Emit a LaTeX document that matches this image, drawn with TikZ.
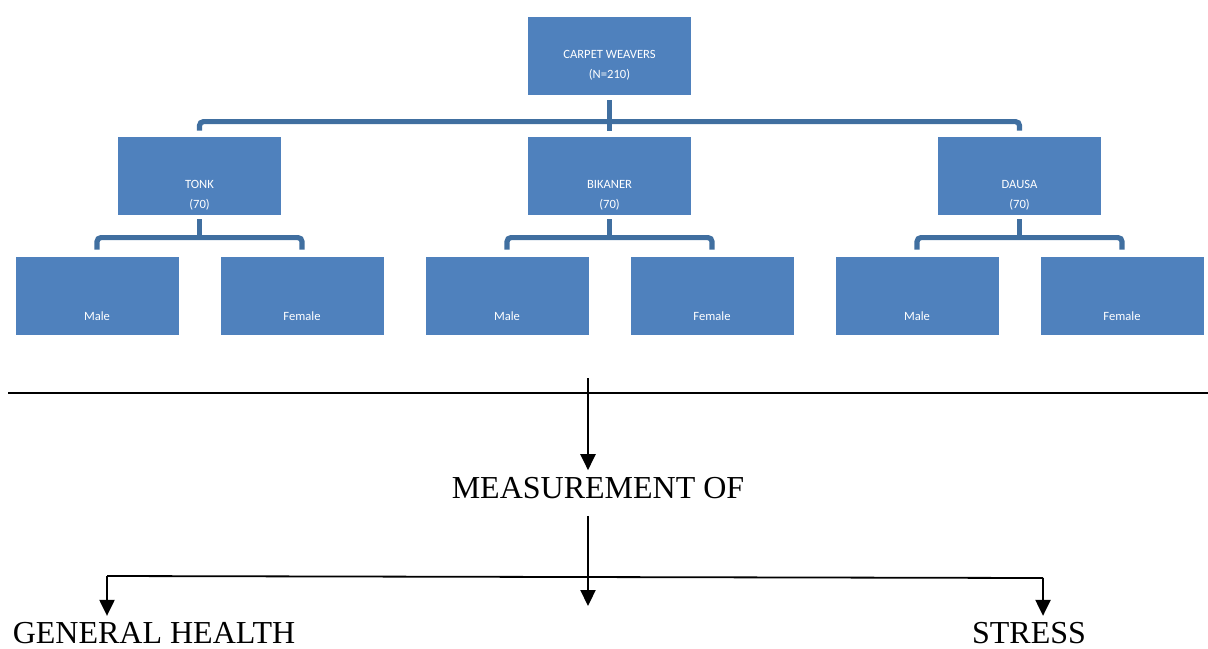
\documentclass[tikz,border=0pt]{standalone}
\usepackage{fontspec}
\setmainfont{Liberation Serif}
\newfontfamily\boxfont{Carlito}
\usetikzlibrary{arrows.meta,positioning,calc}
\definecolor{orgbox}{RGB}{79,129,189}
\definecolor{orgline}{RGB}{64,111,160}
\tikzset{unit/.style={fill=orgbox,minimum width=81.5pt,minimum height=39pt,inner sep=0pt},
  unittext/.style={font=\boxfont\fontsize{6.3}{10}\selectfont,text=white,align=center,inner sep=0pt},
  tie/.style={orgline,line width=2.6pt,rounded corners=2pt},
  rule/.style={black,line width=0.9pt},
  flow/.style={-{Triangle[length=8pt,width=7.5pt]},black,line width=1.1pt},
  bigtext/.style={font=\fontsize{16}{19}\selectfont}}

\begin{document}
\begin{tikzpicture}[x=0.5pt,y=-0.5pt]
\useasboundingbox (0,0) rectangle (1208,648);
% organisation chart
\node[unit] (top) at (609.5,56) {};
\node[unittext] (top-t) at (609.5,65) {CARPET WEAVERS\\(N=210)};
\node[unit] (tonk) at (199.5,176) {};
\node[unit] (bik) at (609.5,176) {};
\node[unit] (dau) at (1019.5,176) {};
\node[unittext] (tonk-t) at (199.5,195) {TONK\\(70)};
\node[unittext] (bik-t) at (609.5,195) {BIKANER\\(70)};
\node[unittext] (dau-t) at (1019.5,195) {DAUSA\\(70)};
\node[unit] (tonkm) at (97,296) {};
\node[unit] (tonkf) at (302,296) {};
\node[unit] (bikm) at (507,296) {};
\node[unit] (bikf) at (712,296) {};
\node[unit] (daum) at (917,296) {};
\node[unit] (dauf) at (1122,296) {};
\foreach \n/\t in {tonkm/Male, tonkf/Female, bikm/Male, bikf/Female, daum/Male, dauf/Female}
  \node[unittext] (\n-t) at ($(\n.center)+(0,20)$) {\t};
\draw[tie] ($(tonk.north)+(0,-6)$) -- ++(0,-9) -| ($(dau.north)+(0,-6)$);
\draw[tie] ($(top.south)+(0,5)$) -- ($(bik.north)+(0,-6)$);
\foreach \m/\a/\b in {tonk/tonkm/tonkf, bik/bikm/bikf, dau/daum/dauf} {
  \draw[tie] ($(\m.south)+(0,4)$) -- ($(\m.south)+(0,23)$);
  \draw[tie] ($(\a.north)+(0,-7)$) -- ++(0,-12) -| ($(\b.north)+(0,-7)$);
}
% measurement part
\coordinate (rulel) at (8,393);
\coordinate (ruler) at (1208,393);
\draw[rule] (rulel) -- (ruler);
\node[bigtext] (meas) at (598,488) {MEASUREMENT OF};
\coordinate (in) at (588,378);
\coordinate (out) at (588,606);
\draw[flow] (in) -- (in |- meas.north);
\draw[flow,shorten <=5pt] (out |- meas.south) -- (out);
\node[bigtext,inner ysep=1pt] (gh) at (154,633) {GENERAL HEALTH};
\node[bigtext,inner ysep=1pt] (st) at (1029,633) {STRESS};
\coordinate (ghl) at (107,576);
\coordinate (str) at (1043,578);
\draw[rule] (ghl) -- (str);
\draw[flow,shorten >=2pt] (ghl) -- (ghl |- gh.north);
\draw[flow,shorten >=2pt] (str) -- (str |- st.north);
\end{tikzpicture}
\end{document}
